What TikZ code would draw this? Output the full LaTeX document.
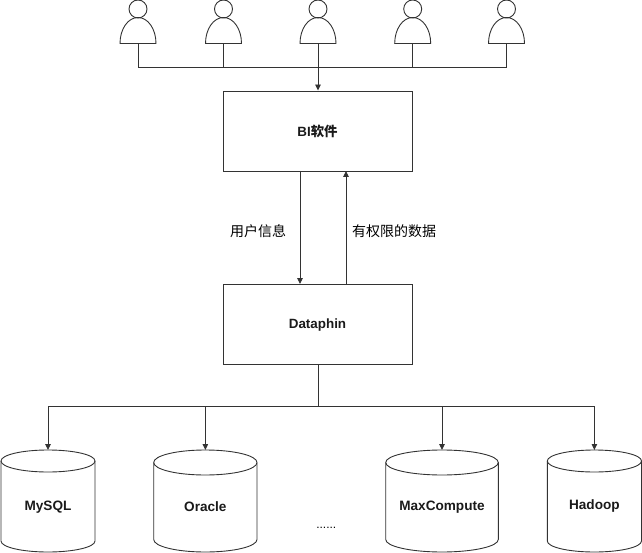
\documentclass[tikz,border=0pt]{standalone}
\usepackage{fontspec}
\setmainfont{Liberation Sans}
\newfontfamily\cjk{Noto Sans CJK SC}
\newfontfamily\cjkb{Noto Sans CJK SC Medium}
\usetikzlibrary{shapes.geometric,arrows.meta}
\definecolor{ln}{HTML}{333333}
\definecolor{tx}{HTML}{1A1A1A}
\tikzset{x=1pt,y=-1pt,
 linkline/.style={draw=ln,line width=0.9pt},
 arrowline/.style={linkline,-{Triangle[length=6pt,width=5.5pt]}},
 box/.style={draw=ln,line width=0.9pt,rectangle,minimum width=189pt,minimum height=80pt,inner sep=0pt},
 boxtxt/.style={font=\bfseries\fontsize{13.4}{16}\selectfont,inner sep=0pt,text=tx},
 lbl/.style={font=\cjk\fontsize{14}{16}\selectfont,inner sep=0pt},
 dbtxt/.style={font=\bfseries\fontsize{13.6}{16}\selectfont,inner sep=0pt,text=tx},
 head/.style={draw=ln,line width=0.9pt,circle,minimum size=18pt,inner sep=0pt},
}
\newcommand{\persona}[2]{%
 \draw[draw=ln,line width=0.9pt] (#1-18,43.5) .. controls (#1-18,29) and (#1-10,17.5) .. (#1,17.5) .. controls (#1+10,17.5) and (#1+18,29) .. (#1+18,43.5) -- cycle;
 \node[head] (h#2) at (#1,9) {};
 \coordinate (f#2) at (#1,43.5);
}
% name, left, right, top, bottom, ellipse half height, label, label y
\newcommand{\dbase}[8]{%
 \path[draw=ln,line width=0.9pt] (#2,#4+#6) .. controls (#2,#4+#6*0.45) and ({(#2+#3)/2-(#3-#2)*0.28},#4) .. ({(#2+#3)/2},#4) .. controls ({(#2+#3)/2+(#3-#2)*0.28},#4) and (#3,#4+#6*0.45) .. (#3,#4+#6) -- (#3,#5-#6) .. controls (#3,#5-#6*0.45) and ({(#2+#3)/2+(#3-#2)*0.28},#5) .. ({(#2+#3)/2},#5) .. controls ({(#2+#3)/2-(#3-#2)*0.28},#5) and (#2,#5-#6*0.45) .. (#2,#5-#6) -- cycle;
 \draw[draw=ln,line width=0.9pt] (#2,#4+#6) .. controls (#2,#4+#6*1.55) and ({(#2+#3)/2-(#3-#2)*0.28},#4+#6*2) .. ({(#2+#3)/2},#4+#6*2) .. controls ({(#2+#3)/2+(#3-#2)*0.28},#4+#6*2) and (#3,#4+#6*1.55) .. (#3,#4+#6);
 \coordinate (#1top) at ({(#2+#3)/2},#4);
 \node[dbtxt] (#1) at ({(#2+#3)/2},#8) {#7};
}
\begin{document}
\begin{tikzpicture}
\useasboundingbox (0,0) rectangle (642,553);
\persona{138}{a}\persona{223.5}{b}\persona{318}{c}\persona{412.7}{d}\persona{506.5}{e}
\node[box] (bi) at (317.5,131) {};
\node[box] (dp) at (317.5,324) {};
\node[boxtxt] (bit) at (bi.center) {BI{\cjkb 软件}};
\node[boxtxt] (dpt) at (317.5,325) {Dataphin};
\coordinate (bus) at (318,67.5);
\coordinate (dbus) at (318,406.5);
\draw[linkline] (fa) |- (bus);
\draw[linkline] (fb) |- (bus);
\draw[linkline] (fd) |- (bus);
\draw[linkline] (fe) |- (bus);
\draw[arrowline] (fc) -- (fc |- bi.north);
\draw[arrowline] (300,171) -- (300,284);
\draw[arrowline] (346,284) -- (346,171);
\node[lbl] (l1) at (258,231) {用户信息};
\node[lbl] (l2) at (394,231) {有权限的数据};
\dbase{mysql}{1}{95}{450}{552}{11}{MySQL}{507}
\dbase{oracle}{153.7}{257}{450}{552}{12.5}{Oracle}{507}
\dbase{maxc}{385.7}{498.3}{450}{552}{12.5}{MaxCompute}{507}
\dbase{hadoop}{547.3}{641.5}{450}{552}{11}{Hadoop}{506}
\node[inner sep=0pt,font=\fontsize{12}{14}\selectfont] (dots) at (326.3,528) {......};
\draw[linkline] (dp.south -| bus) -- (dbus);
\draw[arrowline] (dbus) -| (mysqltop);
\draw[arrowline] (dbus) -| (oracletop);
\draw[arrowline] (dbus) -| (maxctop);
\draw[arrowline] (dbus) -| (hadooptop);
\end{tikzpicture}
\end{document}
